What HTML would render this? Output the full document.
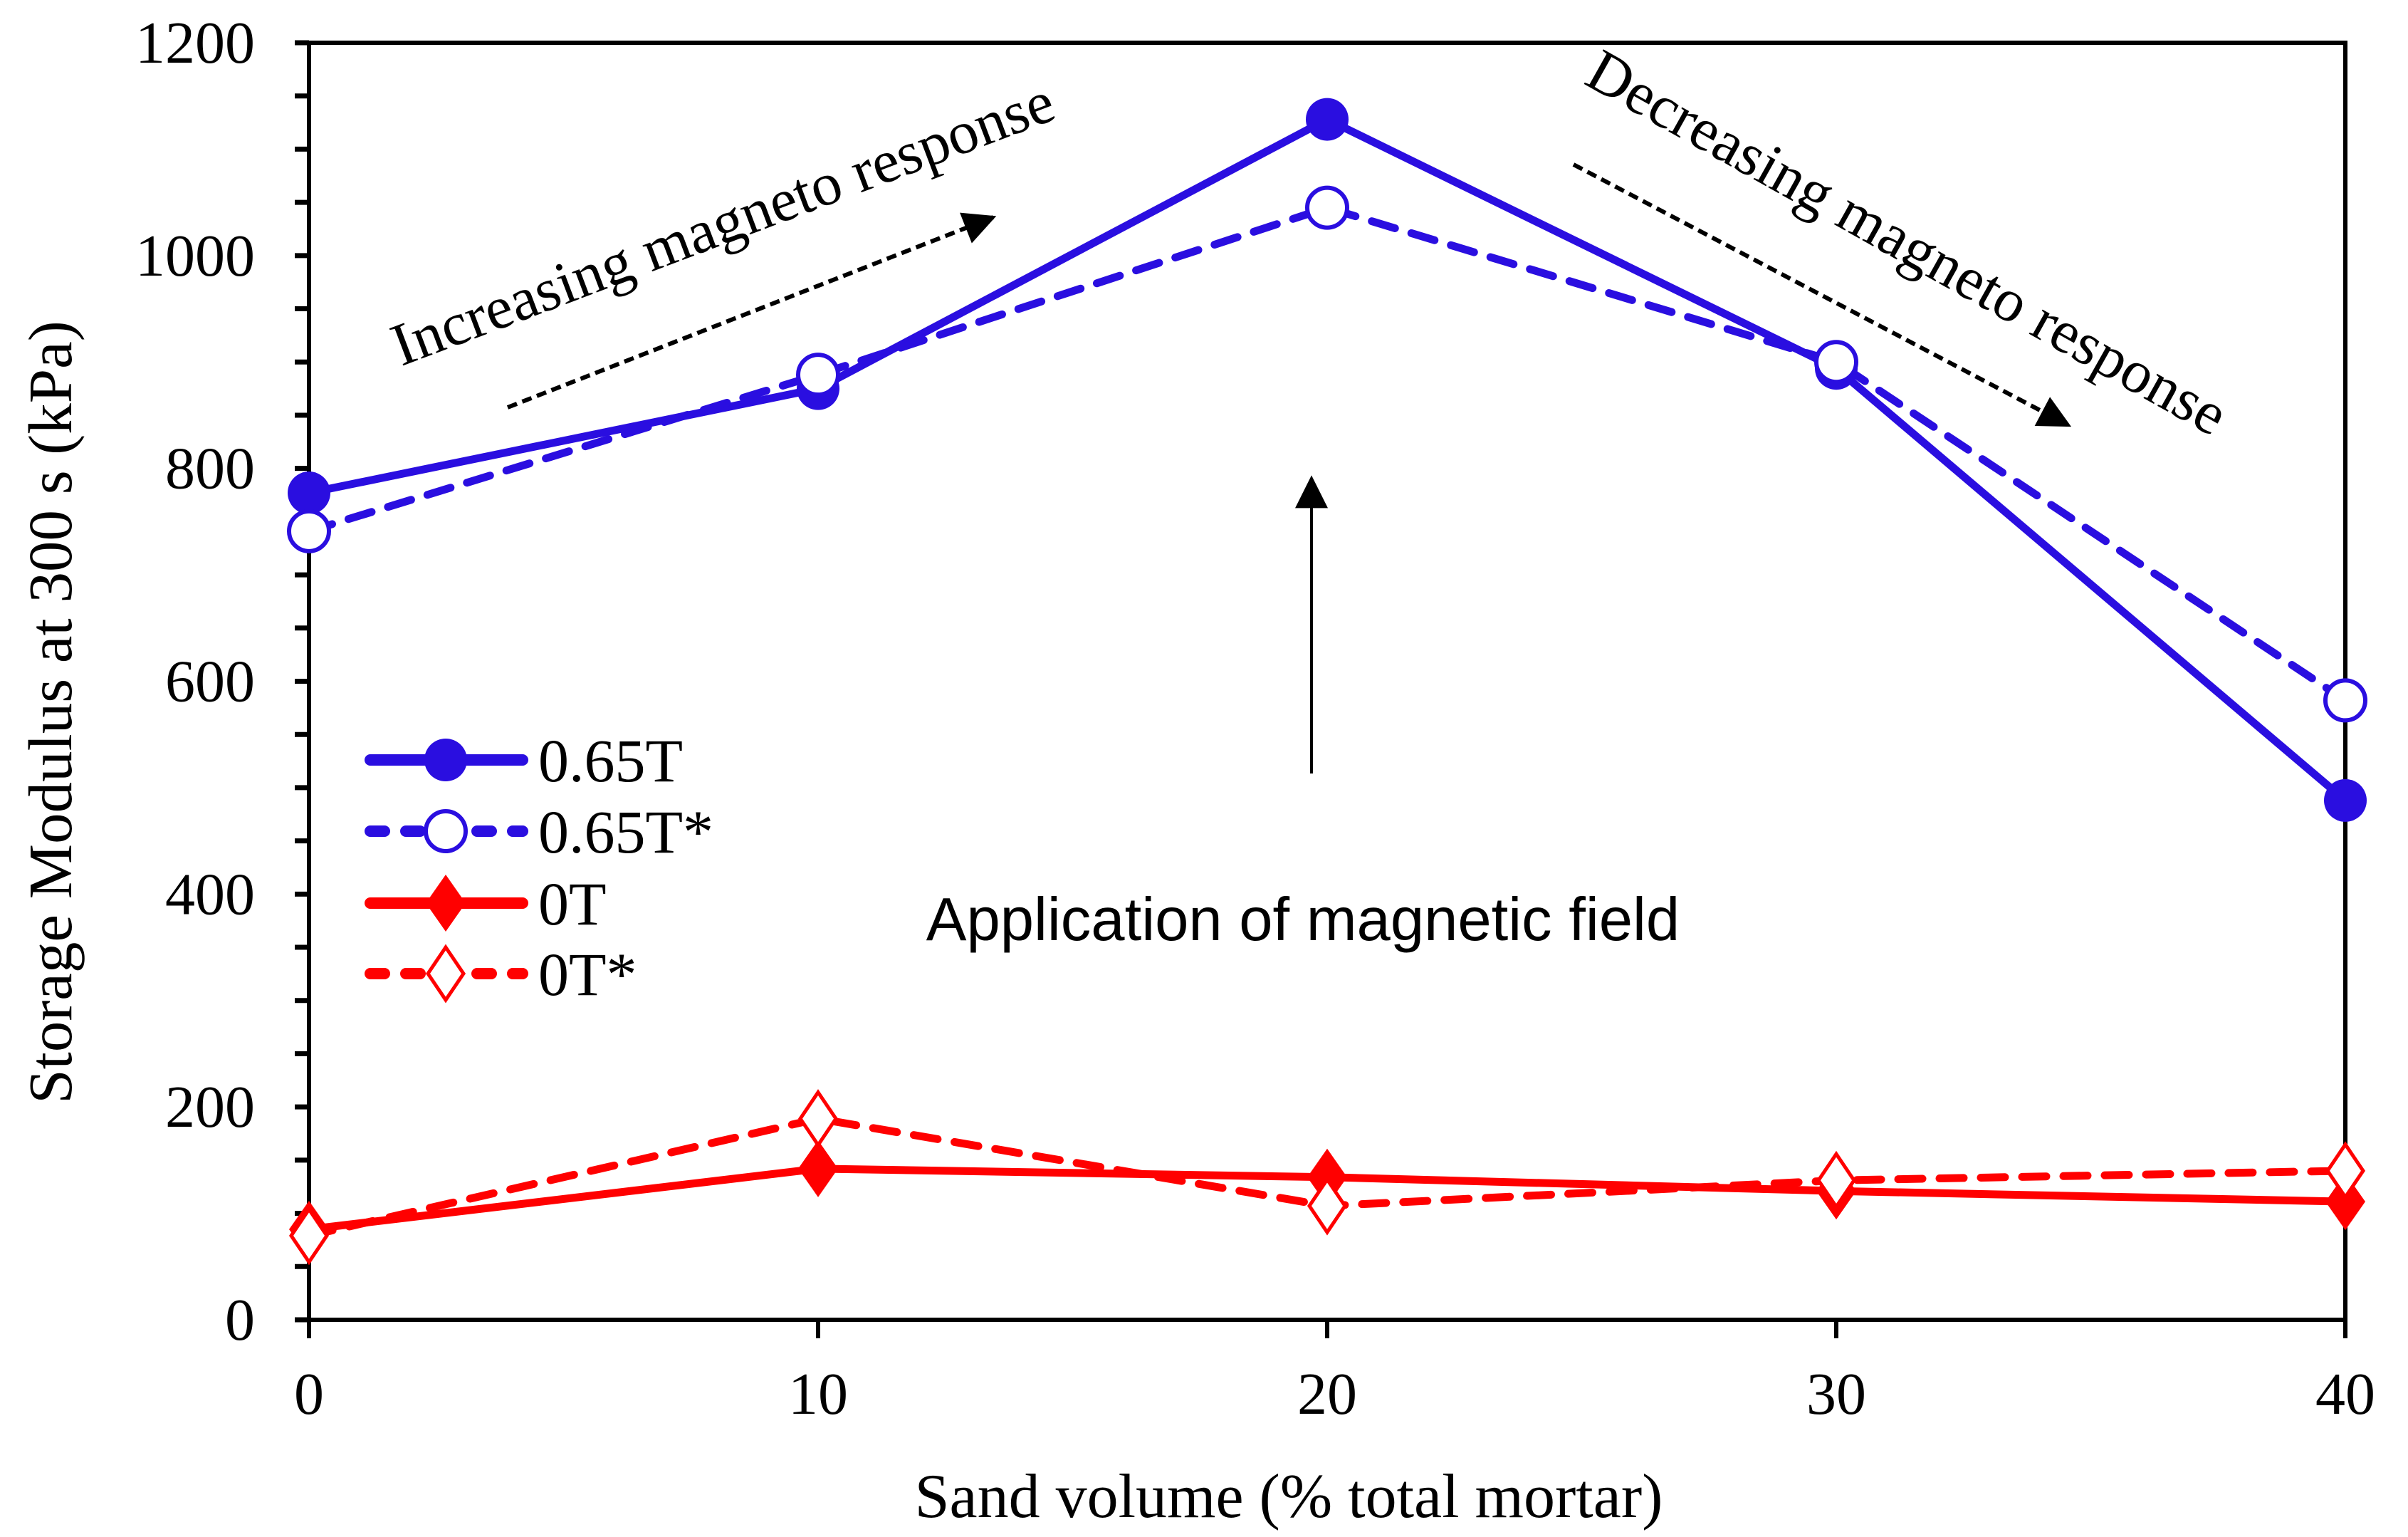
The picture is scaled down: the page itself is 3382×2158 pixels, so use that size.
<!DOCTYPE html>
<html><head><meta charset="utf-8"><style>
html,body{margin:0;padding:0;background:#fff;}
svg{display:block;}
.serif{font-family:"Liberation Serif",serif;}
.sans{font-family:"Liberation Sans",sans-serif;}
</style></head>
<body>
<svg id="chart" width="3382" height="2158" viewBox="0 0 3382 2158" xmlns="http://www.w3.org/2000/svg">
<defs>
<marker id="ah" viewBox="0 0 10 10" refX="9" refY="5" markerWidth="50" markerHeight="46" markerUnits="userSpaceOnUse" orient="auto"><path d="M0,0 L10,5 L0,10 z" fill="#000"/></marker>
</defs>
<g id="axes"></g>
<g id="series"></g>
<g id="legend"></g>
<text class="serif" x="80" y="1000" font-size="87" text-anchor="middle" transform="rotate(-90 80 1000)" dominant-baseline="middle">Storage Modulus at 300 s (kPa)</text>
<text class="serif" x="1810" y="2130" font-size="88" text-anchor="middle">Sand volume (% total mortar)</text>
<text class="sans" x="1830" y="1320" font-size="85" text-anchor="middle">Application of magnetic field</text>
<line x1="1842" y1="1086" x2="1842" y2="672" stroke="#000" stroke-width="4" marker-end="url(#ah)"/>
<text class="serif" x="1025" y="340" font-size="85" text-anchor="middle" transform="rotate(-20.7 1025 340)">Increasing magneto response</text>
<line x1="713" y1="572" x2="1395" y2="305" stroke="#000" stroke-width="6" stroke-dasharray="14 8" marker-end="url(#ah)"/>
<text class="serif" x="2665" y="365" font-size="85" text-anchor="middle" transform="rotate(29.3 2665 365)">Decreasing magneto response</text>
<line x1="2210" y1="231" x2="2905" y2="597" stroke="#000" stroke-width="6" stroke-dasharray="14 8" marker-end="url(#ah)"/>
</svg>
<script>
const categories = [0, 10, 20, 30, 40];
const s065T = [777, 875, 1128, 894, 488];
const s065Tstar = [741, 888, 1045, 900, 582];
const s0T = [85, 142, 134, 121, 111];
const s0Tstar = [79, 189, 107, 131, 140];
const yTicks = [0, 200, 400, 600, 800, 1000, 1200];
const xTicks = [0, 10, 20, 30, 40];

const NS = "http://www.w3.org/2000/svg";
const L = 434, R = 3294, T = 60, B = 1853;
const xs = v => L + (v - 0) / 40 * (R - L);
const ys = v => B - v / 1200 * (B - T);
function mk(tag, attrs, parent) {
  const e = document.createElementNS(NS, tag);
  for (const k in attrs) e.setAttribute(k, attrs[k]);
  parent.appendChild(e);
  return e;
}
const axes = document.getElementById('axes');
let f = mk('rect', {x: L, y: T, width: R - L, height: B - T, fill: 'none', stroke: '#000', 'stroke-width': 6}, axes);


for (let v = 0; v <= 1200; v += 50) {
  const t = mk('line', {x1: L - 20, x2: L, y1: ys(v), y2: ys(v), stroke: '#000', 'stroke-width': 7}, axes);
  
  
}
yTicks.forEach(v => {
  const t = mk('text', {x: 358, y: ys(v) + 28, 'font-size': 84, 'text-anchor': 'end', class: 'serif'}, axes);
  t.textContent = v;
  
  
});
xTicks.forEach(v => {
  const t = mk('line', {x1: xs(v), x2: xs(v), y1: B, y2: B + 26, stroke: '#000', 'stroke-width': 6}, axes);
  
  
  const l = mk('text', {x: xs(v), y: 1985, 'font-size': 84, 'text-anchor': 'middle', class: 'serif'}, axes);
  l.textContent = v;
  
  
});
const BLUE = '#2a0ee0', RED = '#ff0000';
const cfg = [
  {name: '0.65T', data: s065T, color: BLUE, dash: null, shape: 'circle', fill: true},
  {name: '0.65T*', data: s065Tstar, color: BLUE, dash: '34 24', shape: 'circle', fill: false},
  {name: '0T', data: s0T, color: RED, dash: null, shape: 'diamond', fill: true},
  {name: '0T*', data: s0Tstar, color: RED, dash: '34 24', shape: 'diamond', fill: false},
];
function marker(g, shape, fill, color, x, y) {
  let m;
  if (shape === 'circle') {
    m = mk('circle', {cx: x, cy: y, r: fill ? 30 : 28, fill: fill ? color : '#fff', stroke: color, 'stroke-width': fill ? 0 : 6}, g);
  } else {
    const w = fill ? 28 : 25, h = fill ? 40 : 37;
    m = mk('polygon', {points: `${x},${y - h} ${x + w},${y} ${x},${y + h} ${x - w},${y}`, fill: fill ? color : '#fff', stroke: color, 'stroke-width': fill ? 0 : 5}, g);
  }
  return m;
}
const sg = document.getElementById('series');
cfg.forEach(c => {
  const g = mk('g', {}, sg);
  
  
  const pts = c.data.map((v, i) => xs(categories[i]) + ',' + ys(v)).join(' ');
  const pl = mk('polyline', {points: pts, fill: 'none', stroke: c.color, 'stroke-width': 11, 'stroke-linecap': 'round', 'stroke-linejoin': 'round'}, g);
  if (c.dash) pl.setAttribute('stroke-dasharray', c.dash);
  
  
  c.data.forEach((v, i) => {
    const m = marker(g, c.shape, c.fill, c.color, xs(categories[i]), ys(v));
    
    
  });
});
const lg = document.getElementById('legend');
const rows = [1067, 1167, 1268, 1367];
cfg.forEach((c, i) => {
  const g = mk('g', {}, lg);
  
  
  const y = rows[i];
  const ln = mk('line', {x1: 520, x2: 734, y1: y, y2: y, stroke: c.color, 'stroke-width': 16, 'stroke-linecap': 'round'}, g);
  if (c.dash) ln.setAttribute('stroke-dasharray', '20 30');
  
  
  const m = marker(g, c.shape, c.fill, c.color, 626, y);
  
  
  const t = mk('text', {x: 756, y: y + 30, 'font-size': 86, class: 'serif'}, g);
  t.textContent = c.name;
  
  
});
</script>
</body></html>
